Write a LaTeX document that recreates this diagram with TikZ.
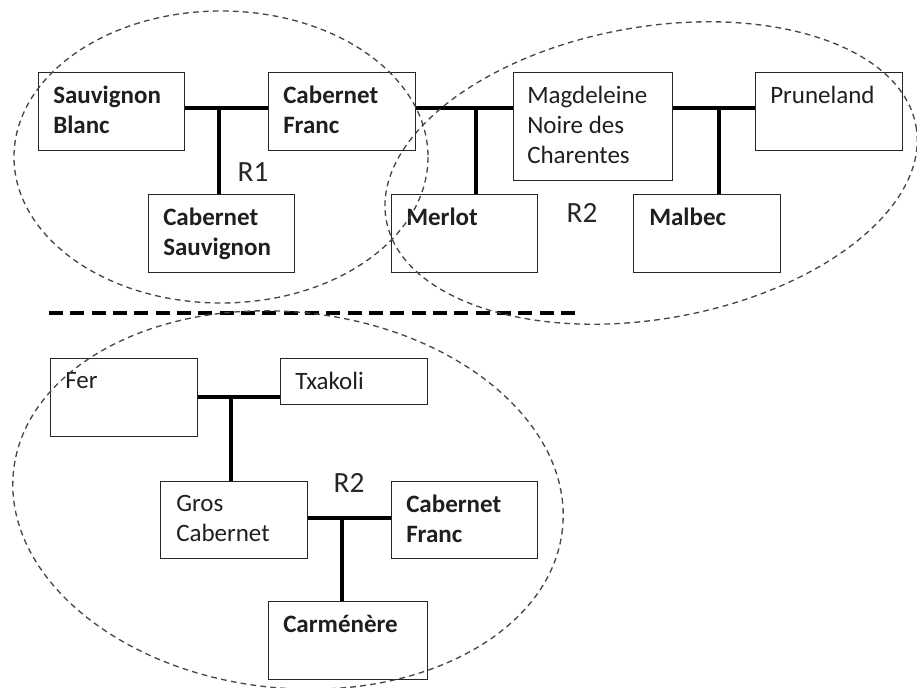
\documentclass[tikz,border=0pt]{standalone}
\usepackage{fontspec}
\setmainfont{Carlito}
\begin{document}
\begin{tikzpicture}[x=0.75pt,y=-0.75pt,
  box/.style={draw=black!85,line width=0.9pt,inner sep=0pt,anchor=north west},
  txt/.style={anchor=north west,inner sep=0pt,align=left,text=black!88,
    font=\fontsize{18.75}{22.5}\selectfont},
  btxt/.style={txt,font=\fontsize{18.75}{22.5}\selectfont\bfseries},
  rlab/.style={inner sep=0pt,text=black!85,font=\fontsize{22}{26}\selectfont},
  link/.style={line width=2.3pt,black},
  region/.style={draw=black!72,line width=1pt,dash pattern=on 4.3pt off 3.2pt},
  sep/.style={line width=2.3pt,black,dash pattern=on 10.5pt off 5.5pt}]
\useasboundingbox (0,0) rectangle (917,688);
% top boxes
\node[box,minimum width=109.5pt,minimum height=58.5pt] (sb) at (38,72) {};
\node[box,minimum width=110.25pt,minimum height=58.5pt] (cf) at (268,72) {};
\node[box,minimum width=109.5pt,minimum height=58.5pt] (cs) at (148,194) {};
\node[box,minimum width=119.25pt,minimum height=81pt] (mg) at (513,72) {};
\node[box,minimum width=110.25pt,minimum height=58.5pt] (pr) at (755,72) {};
\node[box,minimum width=109.5pt,minimum height=58.5pt] (me) at (391,194) {};
\node[box,minimum width=110.25pt,minimum height=58.5pt] (ma) at (633,194) {};
% bottom boxes
\node[box,minimum width=110.25pt,minimum height=58.5pt] (fe) at (50,358) {};
\node[box,minimum width=110.25pt,minimum height=34.5pt] (tx) at (280,358) {};
\node[box,minimum width=110.25pt,minimum height=57.75pt] (gc) at (160,481) {};
\node[box,minimum width=109.5pt,minimum height=57.75pt] (cf2) at (391,481) {};
\node[box,minimum width=119.25pt,minimum height=58.5pt] (ca) at (268,601) {};
% texts
\node[btxt] (tsb) at ([shift={(15,14)}]sb.north west) {Sauvignon\\Blanc};
\node[btxt] (tcf) at ([shift={(15,14)}]cf.north west) {Cabernet\\Franc};
\node[btxt] (tcs) at ([shift={(15,14)}]cs.north west) {Cabernet\\Sauvignon};
\node[txt] (tmg) at ([shift={(14,14)}]mg.north west) {Magdeleine\\Noire des\\Charentes};
\node[txt] (tpr) at ([shift={(15,14)}]pr.north west) {Pruneland};
\node[btxt] (tme) at ([shift={(15,14)}]me.north west) {Merlot};
\node[btxt] (tma) at ([shift={(16,14)}]ma.north west) {Malbec};
\node[txt] (tfe) at ([shift={(15,14)}]fe.north west) {Fer};
\node[txt] (ttx) at ([shift={(15,14)}]tx.north west) {Txakoli};
\node[txt] (tgc) at ([shift={(16,14)}]gc.north west) {Gros\\Cabernet};
\node[btxt] (tcf2) at ([shift={(15,14)}]cf2.north west) {Cabernet\\Franc};
\node[btxt] (tca) at ([shift={(15,14)}]ca.north west) {Carménère};
% region labels
\node[rlab] (r1) at (253,172) {R1};
\node[rlab] (r2a) at (582,213) {R2};
\node[rlab] (r2b) at (349,483) {R2};
% junctions
\coordinate (j1) at (219,108);
\coordinate (j2) at (476,108);
\coordinate (j3) at (719,108);
\coordinate (j4) at (231,397);
\coordinate (j5) at (342,518);
% connectors
\draw[link] (sb.east |- j1) -- (cf.west |- j1);
\draw[link] (j1) -- (j1 |- cs.north);
\draw[link] (cf.east |- j2) -- (mg.west |- j2);
\draw[link] (j2) -- (j2 |- me.north);
\draw[link] (mg.east |- j3) -- (pr.west |- j3);
\draw[link] (j3) -- (j3 |- ma.north);
\draw[link] (fe.east |- j4) -- (tx.west |- j4);
\draw[link] (j4) -- (j4 |- gc.north);
\draw[link] (gc.east |- j5) -- (cf2.west |- j5);
\draw[link] (j5) -- (j5 |- ca.north);
% separator
\coordinate (s1) at (49,313);
\coordinate (s2) at (582,313);
\draw[sep] (s1) -- (s2);
% regions
\coordinate (e1) at (221,157);
\coordinate (e2) at (651,173);
\coordinate (e3) at (288,500);
\draw[region] (e1) ellipse [x radius=207,y radius=146];
\draw[region,rotate around={10:(e2)}] (e2) ellipse [x radius=269,y radius=146];
\draw[region,rotate around={-6:(e3)}] (e3) ellipse [x radius=276,y radius=188];
\end{tikzpicture}
\end{document}
